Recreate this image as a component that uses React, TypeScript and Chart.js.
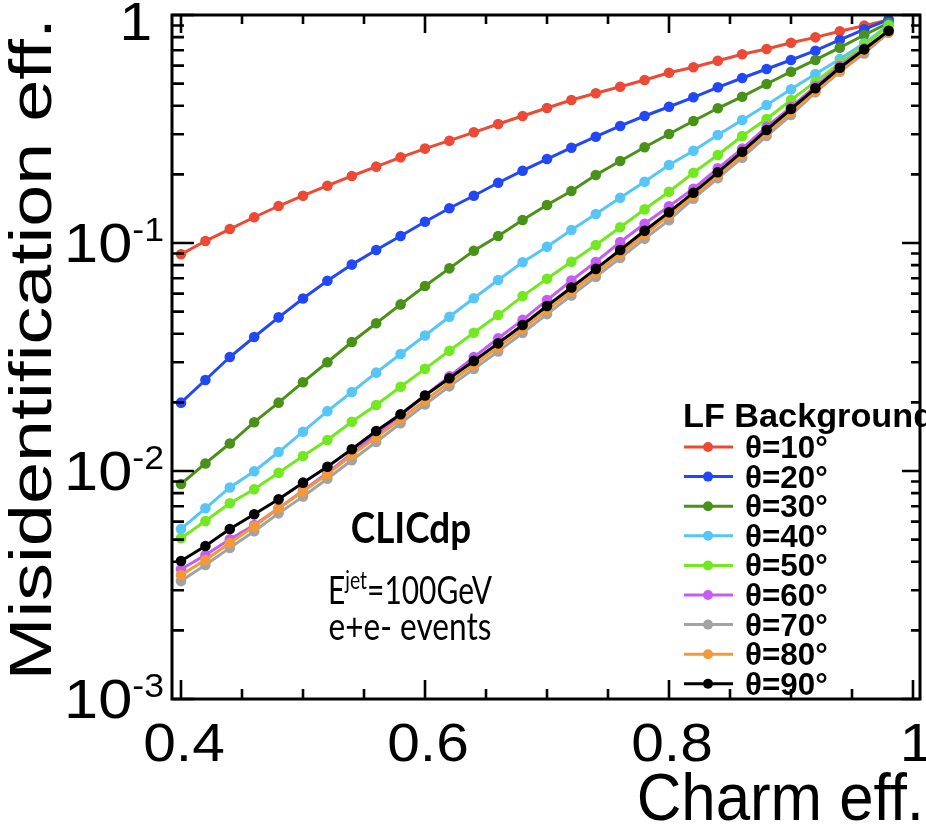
import React, { useEffect, useRef } from "react";
import { Chart, registerables } from "chart.js";

Chart.register(...registerables);

// ---------------- data ----------------
const charmEff = [
  0.4, 0.42, 0.44, 0.46, 0.48, 0.5, 0.52, 0.54, 0.56, 0.58, 0.6, 0.62, 0.64, 0.66, 0.68,
  0.7, 0.72, 0.74, 0.76, 0.78, 0.8, 0.82, 0.84, 0.86, 0.88, 0.9, 0.92, 0.94, 0.96, 0.98,
];

const theta10 = [
  0.0892, 0.102, 0.1151, 0.1297, 0.1453, 0.1612, 0.1784, 0.1967, 0.2162, 0.2375, 0.2594, 0.281,
  0.3058, 0.3326, 0.3606, 0.391, 0.4238, 0.4535, 0.4848, 0.5187, 0.558, 0.5897, 0.6303, 0.6725,
  0.7093, 0.756, 0.798, 0.848, 0.898, 0.951,
];
const theta20 = [
  0.01994, 0.02507, 0.03162, 0.0387, 0.0472, 0.0571, 0.0683, 0.0804, 0.0932, 0.1073, 0.124, 0.142,
  0.1612, 0.1838, 0.2075, 0.2335, 0.2618, 0.2926, 0.326, 0.3606, 0.396, 0.4355, 0.4819, 0.5292,
  0.5797, 0.6349, 0.6973, 0.777, 0.8657, 0.955,
];
const theta30 = [
  0.00877, 0.01079, 0.0132, 0.01637, 0.01994, 0.02452, 0.02998, 0.0368, 0.04444, 0.0538, 0.0648,
  0.0774, 0.0925, 0.1073, 0.1262, 0.1468, 0.169, 0.1987, 0.2289, 0.263, 0.3007, 0.3427, 0.3898,
  0.4383, 0.4981, 0.564, 0.635, 0.719, 0.817, 0.923,
];
const theta40 = [
  0.00557, 0.00686, 0.00847, 0.00998, 0.01211, 0.01487, 0.0183, 0.0222, 0.027, 0.0326, 0.0393,
  0.0475, 0.0572, 0.0688, 0.0823, 0.0963, 0.114, 0.134, 0.158, 0.1857, 0.22, 0.254, 0.2977, 0.3463,
  0.403, 0.472, 0.551, 0.641, 0.751, 0.904,
];
const theta50 = [
  0.00507, 0.00603, 0.00722, 0.00831, 0.00983, 0.01163, 0.01368, 0.01645, 0.01948, 0.02343,
  0.02806, 0.0337, 0.0404, 0.0483, 0.0585, 0.0697, 0.0828, 0.098, 0.1172, 0.1405, 0.1679, 0.2034,
  0.2432, 0.2946, 0.3499, 0.4238, 0.51, 0.614, 0.739, 0.895,
];
const theta60 = [
  0.00371, 0.00428, 0.00502, 0.0058, 0.00686, 0.0082, 0.00982, 0.01195, 0.01452, 0.01755, 0.02144,
  0.026, 0.0316, 0.0382, 0.046, 0.0562, 0.0685, 0.0826, 0.101, 0.1215, 0.145, 0.173, 0.2126, 0.2593,
  0.3228, 0.3947, 0.4865, 0.5987, 0.714, 0.853,
];
const theta70 = [
  0.00329, 0.00387, 0.0046, 0.00544, 0.00652, 0.00772, 0.00925, 0.01114, 0.0134, 0.01619, 0.01957,
  0.02351, 0.02803, 0.03347, 0.04029, 0.04877, 0.05882, 0.071, 0.0859, 0.1044, 0.1259, 0.1564,
  0.1922, 0.2367, 0.2946, 0.3642, 0.4579, 0.5635, 0.6787, 0.836,
];
const theta80 = [
  0.0035, 0.00407, 0.00483, 0.00572, 0.00686, 0.00812, 0.00968, 0.01175, 0.01404, 0.01686, 0.02039,
  0.02448, 0.02918, 0.03485, 0.04195, 0.05078, 0.06125, 0.0739, 0.0895, 0.1087, 0.1324, 0.1612,
  0.1981, 0.244, 0.3037, 0.3754, 0.4627, 0.5694, 0.6929, 0.8445,
];
const theta90 = [
  0.00403, 0.00469, 0.00557, 0.00646, 0.00751, 0.00889, 0.01044, 0.01245, 0.01497, 0.01773,
  0.02144, 0.0255, 0.0304, 0.0363, 0.0437, 0.0529, 0.0638, 0.077, 0.0932, 0.1132, 0.1365, 0.1662,
  0.2042, 0.2515, 0.3131, 0.387, 0.477, 0.587, 0.707, 0.853,
];

const seriesValues = [theta10, theta20, theta30, theta40, theta50, theta60, theta70, theta80, theta90];
const seriesLabels = ["θ=10°", "θ=20°", "θ=30°", "θ=40°", "θ=50°", "θ=60°", "θ=70°", "θ=80°", "θ=90°"];
const seriesColors = [
  "#ec4a34", "#2247f6", "#4a9118", "#55c6f7", "#72e81f", "#c75cf4", "#a3a3a3", "#f3993a", "#000000",
];

const xTickValues = [0.4, 0.6, 0.8, 1.0];
const xTickLabels = ["0.4", "0.6", "0.8", "1"];
const xMinorStep = 0.05;
const yDecades = [1, 0.1, 0.01, 0.001];
const yTickBase = ["1", "10", "10", "10"];
const yTickExp = ["", "-1", "-2", "-3"];

const xTitle = "Charm eff.";
const yTitle = "Misidentification eff.";
const legendTitle = "LF Background";
const clicLines = ["CLICdp", "E", "jet", "=100GeV", "e+e- events"];

// ---------------- helpers ----------------
const SANS = "'Liberation Sans', Arial, Helvetica, sans-serif";
const CAL = "Lato, 'Open Sans', sans-serif";

function drawText(
  ctx: CanvasRenderingContext2D,
  s: string,
  x: number,
  y: number,
  size: number,
  o: { bold?: boolean; family?: string; align?: CanvasTextAlign; sx?: number; sy?: number; rot?: number; color?: string } = {}
) {
  ctx.save();
  ctx.translate(x, y);
  if (o.rot) ctx.rotate(o.rot);
  ctx.scale(o.sx ?? 1, o.sy ?? 1);
  ctx.font = `${o.bold ? "bold " : ""}${size}px ${o.family ?? SANS}`;
  ctx.textAlign = o.align ?? "left";
  ctx.textBaseline = "alphabetic";
  ctx.fillStyle = o.color ?? "#000";
  ctx.fillText(s, 0, 0);
  ctx.restore();
}

function textWidth(ctx: CanvasRenderingContext2D, s: string, size: number, bold = false, family = SANS) {
  ctx.save();
  ctx.font = `${bold ? "bold " : ""}${size}px ${family}`;
  const w = ctx.measureText(s).width;
  ctx.restore();
  return w;
}

const rootFrame = {
  id: "rootFrame",
  afterDraw(chart: any) {
    const ctx: CanvasRenderingContext2D = chart.ctx;
    const { left, right, top, bottom } = chart.chartArea;
    const xs = chart.scales.x;
    const ys = chart.scales.y;

    ctx.save();
    ctx.strokeStyle = "#000";
    ctx.lineWidth = 3;
    ctx.strokeRect(left, top, right - left, bottom - top);

    // x ticks (bottom + top)
    ctx.lineWidth = 2.6;
    for (let v = 0.4; v <= 1.0001; v += xMinorStep) {
      const px = xs.getPixelForValue(v);
      const major = xTickValues.some((t) => Math.abs(t - v) < 1e-6);
      ctx.beginPath();
      ctx.moveTo(px, bottom);
      ctx.lineTo(px, bottom - (major ? 19 : 10));
      ctx.moveTo(px, top);
      ctx.lineTo(px, top + (major ? 18 : 9));
      ctx.stroke();
    }
    // y ticks (left + right)
    for (let d = 0; d < yDecades.length; d++) {
      const dec = yDecades[d];
      const py = ys.getPixelForValue(dec);
      ctx.beginPath();
      ctx.moveTo(left, py);
      ctx.lineTo(left + 22, py);
      ctx.moveTo(right, py);
      ctx.lineTo(right - 18, py);
      ctx.stroke();
      if (d < yDecades.length - 1) {
        for (let m = 2; m <= 9; m++) {
          const pm = ys.getPixelForValue(dec * 0.1 * m);
          ctx.beginPath();
          ctx.moveTo(left, pm);
          ctx.lineTo(left + 12, pm);
          ctx.moveTo(right, pm);
          ctx.lineTo(right - 9, pm);
          ctx.stroke();
        }
      }
    }

    // x tick labels
    xTickValues.forEach((v, i) => {
      const px = xs.getPixelForValue(v);
      drawText(ctx, xTickLabels[i], px + 3, bottom + 62, 51, { align: "center", sx: 1.15, sy: 1.05 });
    });

    // y tick labels
    yDecades.forEach((v, i) => {
      const py = ys.getPixelForValue(v);
      if (!yTickExp[i]) {
        drawText(ctx, yTickBase[i], 152, py + 25, 51, { align: "right", sx: 1.15, sy: 1.05 });
        return;
      }
      const supW = textWidth(ctx, yTickExp[i], 31) * 1.15;
      const xr = 164;
      drawText(ctx, yTickBase[i], xr - supW, py + 19, 52, { align: "right", sx: 1.18, sy: 1.05 });
      drawText(ctx, yTickExp[i], xr - supW, py - 2, 31, { align: "left", sx: 1.15, sy: 1.05 });
    });

    // axis titles
    drawText(ctx, xTitle, 924, 820, 60, { align: "right", sx: 1.03, sy: 1.1 });
    drawText(ctx, yTitle, 51, 18, 60, { align: "right", rot: -Math.PI / 2, sx: 1.26, sy: 1.0 });

    // legend
    drawText(ctx, legendTitle, 683, 427, 32, { bold: true, sx: 1.07, sy: 1.05 });
    seriesLabels.forEach((lab, i) => {
      const cy = 447 + 29.6 * i;
      ctx.strokeStyle = seriesColors[i];
      ctx.lineWidth = 3;
      ctx.beginPath();
      ctx.moveTo(684, cy);
      ctx.lineTo(733, cy);
      ctx.stroke();
      ctx.fillStyle = seriesColors[i];
      ctx.beginPath();
      ctx.arc(708, cy, 5, 0, Math.PI * 2);
      ctx.fill();
      drawText(ctx, lab, 745, cy + 11, 28, { bold: true, sx: 1.12, sy: 1.1 });
    });

    // CLICdp annotation
    drawText(ctx, clicLines[0], 411, 543, 38, { bold: true, family: CAL, align: "center", sx: 0.97, sy: 1.12 });
    const sxE = 0.88;
    const wE = textWidth(ctx, clicLines[1], 34, false, CAL) * sxE;
    const wJ = textWidth(ctx, clicLines[2], 22, false, CAL) * sxE;
    const wR = textWidth(ctx, clicLines[3], 34, false, CAL) * sxE;
    const x0 = 410 - (wE + wJ + wR) / 2;
    drawText(ctx, clicLines[1], x0, 604, 34, { family: CAL, sx: sxE, sy: 1.15 });
    drawText(ctx, clicLines[2], x0 + wE, 589, 22, { family: CAL, sx: sxE, sy: 1.15 });
    drawText(ctx, clicLines[3], x0 + wE + wJ, 604, 34, { family: CAL, sx: sxE, sy: 1.15 });
    drawText(ctx, clicLines[4], 410, 640, 34, { family: CAL, align: "center", sx: 0.93, sy: 1.15 });

    ctx.restore();
  },
};

export default function App() {
  const ref = useRef<HTMLCanvasElement | null>(null);
  useEffect(() => {
    if (!ref.current) return;
    const chart = new Chart(ref.current, {
      type: "line",
      data: {
        datasets: seriesValues.map((vals, i) => ({
          label: seriesLabels[i],
          data: charmEff.map((x, j) => ({ x, y: vals[j] })),
          borderColor: seriesColors[i],
          backgroundColor: seriesColors[i],
          pointBackgroundColor: seriesColors[i],
          pointBorderWidth: 0,
          pointRadius: 5.3,
          borderWidth: 3,
          order: seriesValues.length - i,
        })),
      },
      options: {
        responsive: false,
        animation: false,
        devicePixelRatio: 1,
        layout: { padding: { left: 172, right: 6, top: 15, bottom: 128 } },
        plugins: { legend: { display: false }, tooltip: { enabled: false } },
        scales: {
          x: { type: "linear", min: 0.39262, max: 1.00574, display: false },
          y: { type: "logarithmic", min: 0.001, max: 1, display: false },
        },
      },
      plugins: [rootFrame],
    });
    return () => chart.destroy();
  }, []);
  return (
    <div style={{ position: "absolute", left: 0, top: 0, width: 926, height: 827, background: "#fff" }}>
      <canvas ref={ref} width={926} height={827} style={{ display: "block" }} />
    </div>
  );
}
